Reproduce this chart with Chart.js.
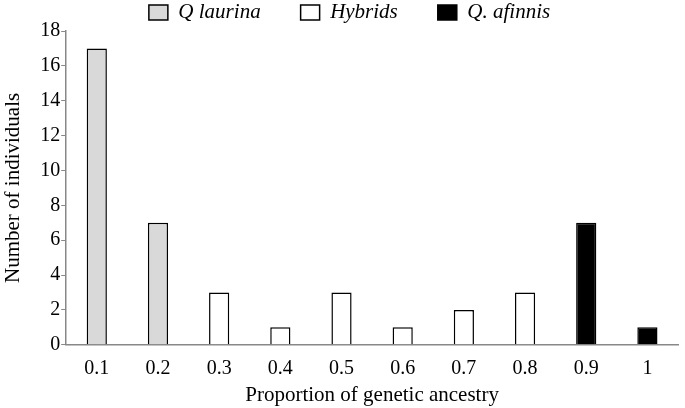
<!DOCTYPE html>
<html><head><meta charset="utf-8">
<script src="https://cdn.jsdelivr.net/npm/chart.js@4/dist/chart.umd.min.js"></script>
<style>html,body{margin:0;padding:0;background:#fff}#wrap{width:685px;height:408px}</style>
</head><body><div id="wrap"><canvas id="c" width="685" height="408"></canvas></div>
<script>
const categories = ['0.1','0.2','0.3','0.4','0.5','0.6','0.7','0.8','0.9','1'];
const laurina = [17, 7, null, null, null, null, null, null, null, null];
const hybrids = [null, null, 3, 1, 3, 1, 2, 3, null, null];
const afinnis = [null, null, null, null, null, null, null, null, 7, 1];
const yTicks = [0,2,4,6,8,10,12,14,16,18];

const FONT = "'Liberation Serif', 'DejaVu Serif', serif";
const LEG_PAD = 40;
const common = {borderColor:'#000', borderWidth:1.5, barPercentage:0.33, categoryPercentage:1};
const legendFit = {
  id:'legendFit',
  beforeInit(chart){
    const lg = chart.legend;
    if(!lg) return;
    const origFit = lg.fit;
    lg.fit = function(){ origFit.call(this); this.height = 31; };
    const origDraw = lg.draw;
    lg.draw = function(a){
      const t = this.top, l = this.left, r = this.right;
      this.top = -LEG_PAD + 2;
      this.left = l + 10; this.right = r + 10;
      origDraw.call(this, a);
      this.top = t; this.left = l; this.right = r;
    };
  }
};
new Chart(document.getElementById('c'), {
  type:'bar',
  data:{labels:categories, datasets:[
    Object.assign({label:'Q laurina', data:laurina, backgroundColor:'#d9d9d9'}, common),
    Object.assign({label:'Hybrids', data:hybrids, backgroundColor:'#ffffff'}, common),
    Object.assign({label:'Q. afinnis', data:afinnis, backgroundColor:'#000000'}, common)
  ]},
  plugins:[legendFit],
  options:{
    responsive:false, animation:false,
    layout:{padding:{left:1, right:7, top:0, bottom:0}},
    plugins:{
      tooltip:{enabled:false},
      legend:{position:'top', align:'center', labels:{font:{family:FONT, size:21, style:'italic'}, color:'#000', boxWidth:19, boxHeight:15, padding:LEG_PAD}},
    },
    scales:{
      x:{stacked:true, grid:{display:false, drawTicks:false}, border:{color:'#888', width:1.5},
        ticks:{font:{family:FONT,size:20}, color:'#000', padding:12},
        title:{display:true, text:'Proportion of genetic ancestry', font:{family:FONT,size:21}, color:'#000', padding:{top:-10,bottom:0}}},
      y:{stacked:true, min:0, max:18, grid:{drawOnChartArea:false, drawTicks:true, tickLength:5, color:'#888'},
        border:{color:'#888', width:1.5},
        afterBuildTicks:(s)=>{s.ticks = yTicks.map(v=>({value:v}));},
        ticks:{font:{family:FONT,size:20}, color:'#000', padding:1},
        title:{display:true, text:'Number of individuals', font:{family:FONT,size:21}, color:'#000', padding:{top:0,bottom:13}}}
    }
  }
});
</script></body></html>
